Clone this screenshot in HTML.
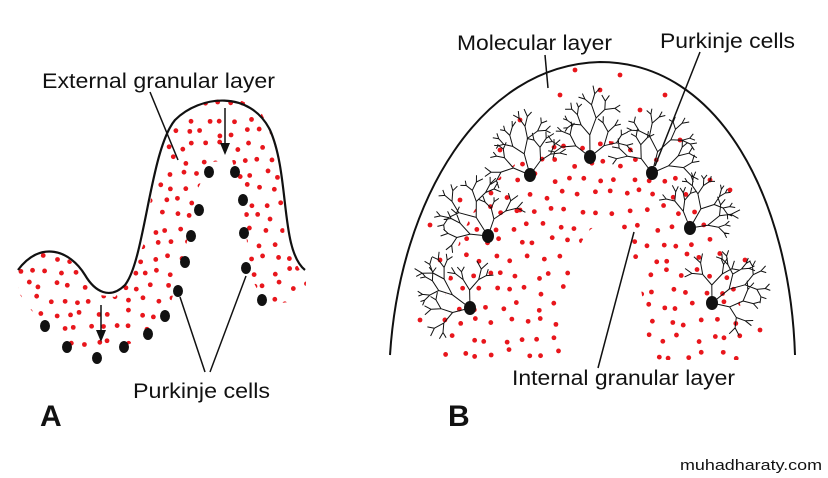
<!DOCTYPE html>
<html><head><meta charset="utf-8"><style>
html,body{margin:0;padding:0;background:#fff;width:828px;height:478px;overflow:hidden}
svg{display:block}
text{font-family:"Liberation Sans",sans-serif;fill:#111}
</style></head><body>
<svg id="s" width="828" height="478" viewBox="0 0 828 478" xmlns="http://www.w3.org/2000/svg">
<defs>
<clipPath id="ca"><polygon points="18,270 40,250 65,255 85,275 100,295 115,297 130,280 145,240 155,170 170,130 195,105 230,95 260,110 275,140 283,200 285,245 300,270 306,282 305,300 265,305 250,275 243,200 232,160 212,162 197,190 183,262 168,312 140,340 100,355 65,345 40,322 18,292"/></clipPath>
<clipPath id="cb"><path clip-rule="evenodd" d="M440,360 C440,240 490,140 592,140 C694,140 744,240 744,360 Z M565,370 C565,290 575,225 602,225 C630,225 648,290 648,370 Z"/></clipPath>
</defs>
<g id="reddotsA" clip-path="url(#ca)"></g>
<g id="reddotsB" clip-path="url(#cb)"></g>
<g id="extra"></g>
<g id="trees" stroke="#111" fill="none" stroke-width="1"></g>
<path d="M18,270 C40,240 70,250 85,275 C95,292 110,300 125,285 C145,260 150,150 175,120 C200,95 250,90 270,130 C290,175 280,250 305,270" fill="none" stroke="#111" stroke-width="2.2"/>
<path d="M390,355 C400,200 480,65 600,62 C720,62 790,200 795,355" fill="none" stroke="#111" stroke-width="2"/>
<g fill="#111">
<ellipse cx="45" cy="326" rx="5" ry="6"/><ellipse cx="67" cy="347" rx="5" ry="6"/><ellipse cx="97" cy="358" rx="5" ry="6"/><ellipse cx="124" cy="347" rx="5" ry="6"/><ellipse cx="148" cy="334" rx="5" ry="6"/><ellipse cx="165" cy="316" rx="5" ry="6"/><ellipse cx="178" cy="291" rx="5" ry="6"/><ellipse cx="185" cy="262" rx="5" ry="6"/><ellipse cx="191" cy="236" rx="5" ry="6"/><ellipse cx="199" cy="210" rx="5" ry="6"/><ellipse cx="209" cy="172" rx="5" ry="6"/><ellipse cx="235" cy="172" rx="5" ry="6"/><ellipse cx="243" cy="200" rx="5" ry="6"/><ellipse cx="244" cy="233" rx="5" ry="6"/><ellipse cx="246" cy="268" rx="5" ry="6"/><ellipse cx="262" cy="300" rx="5" ry="6"/>
<ellipse cx="470" cy="308" rx="6" ry="7"/><ellipse cx="488" cy="236" rx="6" ry="7"/><ellipse cx="530" cy="175" rx="6" ry="7"/><ellipse cx="590" cy="157" rx="6" ry="7"/><ellipse cx="652" cy="173" rx="6" ry="7"/><ellipse cx="690" cy="228" rx="6" ry="7"/><ellipse cx="712" cy="303" rx="6" ry="7"/>
</g>
<g stroke="#111" stroke-width="1.5" fill="none">
<line x1="150" y1="92" x2="178" y2="160"/>
<line x1="205" y1="372" x2="180" y2="297"/><line x1="210" y1="372" x2="246" y2="276"/>
<line x1="225" y1="108" x2="225" y2="145"/><line x1="101" y1="305" x2="101" y2="332"/>
<line x1="545" y1="55" x2="548" y2="88"/>
<line x1="700" y1="52" x2="655" y2="166"/>
<line x1="598" y1="368" x2="634" y2="232"/>
</g>
<g fill="#111"><polygon points="220,143 230,143 225,155"/><polygon points="96,330 106,330 101,342"/></g>
<text x="42" y="88" font-size="21" textLength="233" lengthAdjust="spacingAndGlyphs">External granular layer</text>
<text x="133" y="398" font-size="21" textLength="137" lengthAdjust="spacingAndGlyphs">Purkinje cells</text>
<text x="40" y="426" font-size="30" font-weight="bold">A</text>
<text x="448" y="426" font-size="30" font-weight="bold">B</text>
<text x="457" y="50" font-size="21" textLength="155" lengthAdjust="spacingAndGlyphs">Molecular layer</text>
<text x="660" y="48" font-size="21" textLength="135" lengthAdjust="spacingAndGlyphs">Purkinje cells</text>
<text x="512" y="385" font-size="21" textLength="223" lengthAdjust="spacingAndGlyphs">Internal granular layer</text>
<text x="680" y="470" font-size="15" textLength="142" lengthAdjust="spacingAndGlyphs">muhadharaty.com</text>
</svg>
<script>
var seed=7;function r(){seed=(seed*16807)%2147483647;return seed/2147483647;}
var NS="http://www.w3.org/2000/svg";
function dot(g,x,y,rad,c){var e=document.createElementNS(NS,"circle");e.setAttribute("cx",x);e.setAttribute("cy",y);e.setAttribute("r",rad);e.setAttribute("fill",c);g.appendChild(e);}
var ga=document.getElementById("reddotsA");
for(var y=90;y<370;y+=14)for(var x=10;x<320;x+=14){dot(ga,x+(r()-.5)*8+((y/14)%2)*7,y+(r()-.5)*8,2.4,"#e8161c");}
var gb=document.getElementById("reddotsB");
for(var y=130;y<370;y+=16)for(var x=430;x<760;x+=16){dot(gb,x+(r()-.5)*9+((y/16)%2)*8,y+(r()-.5)*9,2.4,"#e8161c");}
var ge=document.getElementById("extra");
var ex=[[520,120],[560,95],[600,90],[640,110],[680,140],[460,200],[440,260],[730,190],[745,260],[420,320],[760,330],[500,150],[620,75],[575,70],[665,95],[710,180],[430,225],[520,210]];
ex.forEach(function(p){dot(ge,p[0],p[1],2.4,"#e8161c");});
var gt=document.getElementById("trees");var d="";
function br(x,y,a,l,dep){var x2=x+Math.cos(a)*l,y2=y+Math.sin(a)*l;d+="M"+x.toFixed(1)+","+y.toFixed(1)+"L"+x2.toFixed(1)+","+y2.toFixed(1);
if(dep>0){br(x2,y2,a-0.3-r()*0.5,l*(0.6+r()*0.25),dep-1);br(x2,y2,a+0.3+r()*0.5,l*(0.6+r()*0.25),dep-1);}}
var cells=[[470,308],[488,236],[530,175],[590,157],[652,173],[690,228],[712,303]];
cells.forEach(function(c){var a=Math.atan2(c[1]-400,c[0]-592);br(c[0],c[1],a,22,4);br(c[0],c[1],a-0.9,18,3);br(c[0],c[1],a+0.9,18,3);});
var p=document.createElementNS(NS,"path");p.setAttribute("d",d);gt.appendChild(p);
</script>
</body></html>
